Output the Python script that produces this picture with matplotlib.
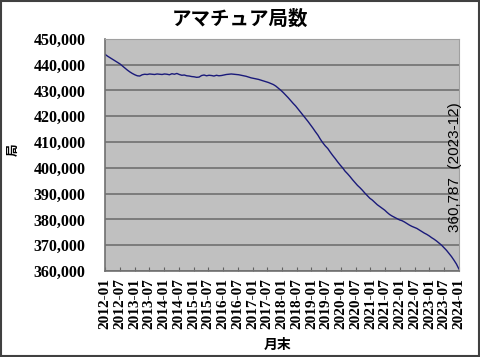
import matplotlib
matplotlib.use('Agg')
import matplotlib.pyplot as plt
from matplotlib.patches import Rectangle

# monthly station counts, 2012-01 .. 2023-12
years = list(range(2012, 2024))
counts = [
    444000, 443300, 442700, 442100, 441500, 440900, 440300, 439500, 438700, 437900, 437200, 436600,
    436100, 435700, 435600, 436100, 436300, 436200, 436400, 436300, 436200, 436400, 436300, 436200,
    436400, 436300, 436100, 436500, 436300, 436600, 436200, 435900, 436000, 435700, 435600, 435400,
    435300, 435100, 435200, 435800, 436000, 435700, 435900, 435800, 435600, 435900, 435700, 435800,
    436000, 436200, 436300, 436400, 436300, 436200, 436100, 435900, 435700, 435500, 435200, 434900,
    434700, 434500, 434300, 434000, 433700, 433400, 433100, 432700, 432300, 431700, 430900, 430100,
    429200, 428200, 427200, 426100, 425000, 424000, 422800, 421600, 420400, 419200, 418000, 416700,
    415400, 414000, 412700, 411100, 409700, 408500, 407500, 406100, 404800, 403600, 402300, 401100,
    400000, 398700, 397700, 396600, 395400, 394300, 393200, 392300, 391300, 390200, 389200, 388200,
    387500, 386600, 385700, 385000, 384300, 383600, 382700, 381900, 381300, 380800, 380300, 379800,
    379500, 379000, 378400, 377800, 377300, 376900, 376500, 375900, 375300, 374700, 374200, 373600,
    372900, 372300, 371600, 370800, 370000, 369000, 368000, 366800, 365600, 364200, 362700, 360787,
]
tick_labels = []
for y in years + [2024]:
    tick_labels.append(f'{y}-01')
    if y < 2024:
        tick_labels.append(f'{y}-07')
last_label = '360,787  (2023-12)'

serif = ['Liberation Serif', 'Noto Sans CJK JP']
jp = ['Noto Sans CJK JP']

fig = plt.figure(figsize=(4.8, 3.57), dpi=100)
ax = fig.add_axes([0.219, 0.241, 0.737, 0.650])
ax.set_facecolor('#c0c0c0')

n = len(counts)
ax.plot(range(n), counts, color='#1a1a7a', linewidth=1.0)

ax.set_xlim(0, n - 1)
ax.set_ylim(360000, 450000)
ax.set_yticks(range(360000, 450001, 10000))
ax.set_yticklabels([f'{v:,}' for v in range(360000, 450001, 10000)],
                   family=serif, fontweight='bold', fontsize=11.5)
step = (n - 1) / (len(tick_labels) - 1)
ax.set_xticks([i * step for i in range(len(tick_labels))])
ax.set_xticklabels(tick_labels, rotation=90, family=serif,
                   fontweight='bold', fontsize=11)
ax.tick_params(axis='x', direction='in', length=3, color='#606060', pad=5)
ax.tick_params(axis='y', length=0, pad=14)
ax.grid(axis='y', color='#707070', linewidth=1.2)
for s in ['top', 'right']:
    ax.spines[s].set_color('#a0a0a0')
    ax.spines[s].set_linewidth(0.8)
for s in ['left', 'bottom']:
    ax.spines[s].set_color('#707070')
    ax.spines[s].set_linewidth(1.2)

ax.text(n - 2.5, 375000, last_label, rotation=90, ha='center', va='bottom',
        family=['Liberation Sans'], fontsize=11)

fig.text(0.5, 0.945, 'アマチュア局数', ha='center', va='center',
         family=jp, fontweight='bold', fontsize=14)
fig.text(0.578, 0.035, '月末', ha='center', va='center',
         family=jp, fontweight='bold', fontsize=10)
fig.text(0.028, 0.58, '局', ha='center', va='center', rotation=90,
         family=jp, fontweight='bold', fontsize=9)

fig.add_artist(Rectangle((0.002, 0.003), 0.995, 0.993, transform=fig.transFigure,
                         fill=False, edgecolor='#404040', linewidth=1.5))

fig.savefig('out.png', dpi=100)
